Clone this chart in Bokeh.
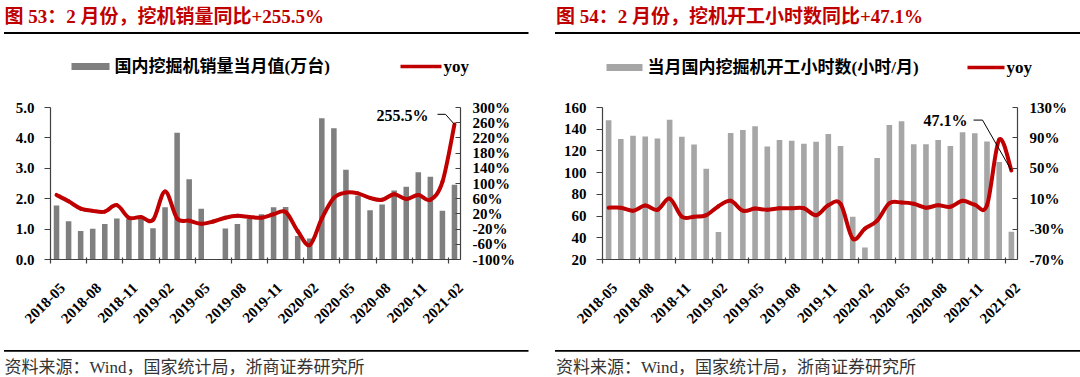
import numpy as np
from bokeh.plotting import figure
from bokeh.models import Range1d, LinearAxis, FixedTicker, PrintfTickFormatter, Label
from bokeh.layouts import row, column
from bokeh.embed import file_html
from bokeh.resources import INLINE

# ---------------- data ----------------
months = ["2018-05", "2018-06", "2018-07", "2018-08", "2018-09", "2018-10", "2018-11", "2018-12",
          "2019-01", "2019-02", "2019-03", "2019-04", "2019-05", "2019-06", "2019-07", "2019-08",
          "2019-09", "2019-10", "2019-11", "2019-12", "2020-01", "2020-02", "2020-03", "2020-04",
          "2020-05", "2020-06", "2020-07", "2020-08", "2020-09", "2020-10", "2020-11", "2020-12",
          "2021-01", "2021-02"]

# 国内挖掘机销量当月值(万台)  (2019-06 missing in the source)
sales = [1.78, 1.26, 0.94, 1.01, 1.17, 1.35, 1.33, 1.33, 1.03, 1.72, 4.17, 2.64, 1.67, float("nan"),
         1.02, 1.17, 1.33, 1.49, 1.72, 1.73, 0.77, 0.69, 4.65, 4.32, 2.95, 2.10, 1.62, 1.81,
         2.27, 2.39, 2.87, 2.72, 1.60, 2.46]
# yoy (%)
sales_yoy = [70, 53, 34, 28, 26, 43, 10, 12, 4, 79, 8, 2, -6, 0, 10, 15, 12, 10, 19, 25,
             -25, -62, 8, 62, 76, 74, 62, 57, 72, 59, 70, 57, 104, 255.5]

# 当月国内挖掘机开工小时数(小时/月)
hours = [148.3, 130.9, 134.0, 133.4, 131.5, 148.8, 133.1, 126.0, 103.7, 45.3, 136.4, 139.2,
         142.8, 124.0, 130.1, 129.3, 126.5, 128.4, 135.6, 124.6, 59.4, 31.0, 113.6, 143.9,
         147.4, 126.2, 126.2, 130.1, 124.6, 137.3, 136.2, 128.7, 109.7, 45.6]
# yoy (%)
hours_yoy = [-1.8, -1.8, -5.8, 0.9, -4.6, 10.0, -13.7, -13.7, -11.7, 0.1, 7.2, -5.8, -3.0, -4.6,
             -2.6, -2.6, -2.6, -11.7, 1.3, 3.3, -42.4, -29.4, -18.8, 4.0, 4.9, 3.3, -1.8, 1.3,
             -0.7, 7.2, 2.1, 1.3, 87.6, 47.1]

title_left = "图 53：2 月份，挖机销量同比+255.5%"
title_right = "图 54：2 月份，挖机开工小时数同比+47.1%"
legend_bar_left = "国内挖掘机销量当月值(万台)"
legend_bar_right = "当月国内挖掘机开工小时数(小时/月)"
legend_line = "yoy"
source_text = "资料来源：Wind，国家统计局，浙商证券研究所"

# ---------------- style ----------------
FONT = "'Liberation Serif', 'Noto Sans CJK SC'"
RED = "#C00000"
TITLE_RED = "#C00000"
TOTAL_W = 1080
PANEL_W = 540
HEAD_H = 78
CHART_H = 257
FOOT_H = 42
LABEL_SHIFT = 1.0   # x-label anchor offset (in categories) right of each tick


def bezier_segments(xs, ys):
    n = len(xs)
    d = dict(x0=[], y0=[], x1=[], y1=[], cx0=[], cy0=[], cx1=[], cy1=[])
    for i in range(n - 1):
        a = max(i - 1, 0)
        b = min(i + 2, n - 1)
        d["x0"].append(xs[i]); d["y0"].append(ys[i])
        d["x1"].append(xs[i + 1]); d["y1"].append(ys[i + 1])
        d["cx0"].append(xs[i] + (xs[i + 1] - xs[a]) / 6.0)
        d["cy0"].append(ys[i] + (ys[i + 1] - ys[a]) / 6.0)
        d["cx1"].append(xs[i + 1] - (xs[b] - xs[i]) / 6.0)
        d["cy1"].append(ys[i + 1] - (ys[b] - ys[i]) / 6.0)
    return d


def blank(width, height):
    f = figure(width=width, height=height, x_range=Range1d(0, width), y_range=Range1d(height, 0),
               output_backend="svg", toolbar_location=None, x_axis_type=None, y_axis_type=None,
               min_border_left=0, min_border_right=0, min_border_top=0, min_border_bottom=0)
    f.outline_line_color = None
    f.background_fill_color = "white"
    f.border_fill_color = "white"
    return f


def label(fig, x, y, text, size, color="black", bold=True, align="left"):
    fig.add_layout(Label(x=x, y=y, text=text, text_font=FONT,
                         text_font_style="bold" if bold else "normal",
                         text_font_size=size, text_color=color, text_baseline="middle",
                         text_align=align))


# ---------- header (titles, rules, legends) ----------
head = blank(TOTAL_W, HEAD_H)
for t, tx, (r0, r1), bar_label, bar_color, leg in [
        (title_left, 4, (3.5, 528), legend_bar_left, "#7F7F7F", (71, 109, 114, 400, 441, 443, 66)),
        (title_right, 555.5, (554.5, 1080), legend_bar_right, "#A6A6A6",
         (606, 642, 647, 967, 1004, 1006, 67))]:
    label(head, tx, 15.6, t, "19px", TITLE_RED)
    head.segment(x0=[r0], y0=[32.5], x1=[r1], y1=[32.5], line_color="black", line_width=1.8)
    gx0, gx1, ltx, lx0, lx1, ytx, ly = leg
    head.segment(x0=[gx0], y0=[ly], x1=[gx1], y1=[ly], line_color=bar_color, line_width=7,
                 line_cap="butt")
    label(head, ltx, ly, bar_label, "17px")
    head.segment(x0=[lx0], y0=[ly], x1=[lx1], y1=[ly], line_color=RED, line_width=3.5,
                 line_cap="butt")
    label(head, ytx, ly, legend_line, "17px")

# ---------- footer (rules, source) ----------
foot = blank(TOTAL_W, FOOT_H)
for tx, (r0, r1) in [(4, (3.5, 528)), (555.5, (554.5, 1080))]:
    foot.segment(x0=[r0], y0=[15.3], x1=[r1], y1=[15.3], line_color="black", line_width=1.8)
    label(foot, tx, 31.5, source_text, "17px", "#333333", bold=False)


def chart(bars, yoy, bar_color, yr, pr, yticks, yfmt, pticks, borders, lab):
    bl, br, bt, bb = borders
    fl, fr, ft, fb = bl, PANEL_W - br, bt, CHART_H - bb
    n = len(months)
    p = figure(width=PANEL_W, height=CHART_H, x_range=Range1d(0, n),
               y_range=Range1d(*yr), output_backend="svg", toolbar_location=None,
               min_border_left=bl, min_border_right=br, min_border_top=bt, min_border_bottom=bb)
    p.extra_y_ranges = {"pct": Range1d(*pr)}
    p.extra_x_ranges = {"lab": Range1d(-LABEL_SHIFT, n - LABEL_SHIFT)}
    p.xgrid.visible = False
    p.ygrid.visible = False
    p.outline_line_color = None
    p.background_fill_color = "white"
    p.border_fill_color = "white"

    def cx(px):
        return (px - fl) * n / (fr - fl)

    def cy(py):
        return yr[0] + (fb - py) * (yr[1] - yr[0]) / (fb - ft)

    def to_primary(v):
        return yr[0] + (v - pr[0]) * (yr[1] - yr[0]) / (pr[1] - pr[0])

    xs = [i + 0.5 for i in range(n)]
    p.vbar(x=xs, top=bars, bottom=yr[0], width=0.46, fill_color=bar_color, line_color=None)
    seg = bezier_segments(xs, yoy)
    p.bezier(line_color=RED, line_width=4, line_cap="round", y_range_name="pct", **seg)

    # x axis: ticks at category boundaries, labels on a second (line-less) axis
    tick_pos = list(range(0, n, 3))
    p.xaxis.ticker = FixedTicker(ticks=tick_pos)
    p.xaxis.major_label_overrides = {i: "" for i in tick_pos}
    p.xaxis.major_tick_in = 2
    p.xaxis.major_tick_out = 4
    p.xaxis.minor_tick_line_color = None
    p.xaxis.major_label_standoff = 0

    xlab = LinearAxis(x_range_name="lab", ticker=FixedTicker(ticks=tick_pos),
                      major_label_overrides={i: months[i] for i in tick_pos})
    xlab.axis_line_color = None
    xlab.major_tick_line_color = None
    xlab.minor_tick_line_color = None
    xlab.major_label_orientation = np.pi / 4
    xlab.major_label_standoff = 16
    p.add_layout(xlab, "below")

    p.yaxis.ticker = FixedTicker(ticks=yticks)
    p.yaxis.formatter = PrintfTickFormatter(format=yfmt)
    p.yaxis.major_tick_in = 0
    p.yaxis.major_tick_out = 6
    p.yaxis.minor_tick_line_color = None
    p.yaxis.major_label_standoff = 10

    ax2 = LinearAxis(y_range_name="pct", ticker=FixedTicker(ticks=pticks),
                     formatter=PrintfTickFormatter(format="%d%%"))
    ax2.major_tick_in = 5
    ax2.major_tick_out = 0
    ax2.minor_tick_line_color = None
    ax2.major_label_standoff = 12
    p.add_layout(ax2, "right")

    for ax in [xlab, p.yaxis[0], ax2]:
        ax.major_label_text_font = "Liberation Serif"
        ax.major_label_text_font_style = "bold"
        ax.major_label_text_color = "#000000"
        ax.major_label_text_font_size = "15px"
    for ax in [p.xaxis[0], p.yaxis[0], ax2]:
        ax.axis_line_color = "#404040"
        ax.axis_line_width = 1.2
        ax.major_tick_line_color = "#404040"
        ax.major_tick_line_width = 1.2
    p.xaxis[0].major_label_text_font_size = "1px"

    # last-point annotation
    lab_x, lab_y, k0, k1 = lab
    last_x = xs[-1]
    last_y = to_primary(yoy[-1])
    p.add_layout(Label(x=cx(lab_x), y=cy(lab_y), text=f"{yoy[-1]}%", text_font=FONT,
                       text_font_style="bold", text_font_size="16px", text_color="black",
                       text_baseline="middle", text_align="right"))
    p.segment(x0=[cx(k0)], y0=[cy(lab_y - 1)], x1=[cx(k1)], y1=[cy(lab_y - 1)],
              line_color="black", line_width=1)
    p.segment(x0=[cx(k1)], y0=[cy(lab_y - 1)], x1=[last_x], y1=[last_y],
              line_color="black", line_width=1)
    return p


# chart canvases: left at page (0, 78), right at page (540, 78)
c1 = chart(sales, sales_yoy, "#7F7F7F", (0, 5), (-100, 300), [0, 1, 2, 3, 4, 5], "%.1f",
           list(range(-100, 301, 40)), (50, 80, 29, 72), (428, 37, 437, 445))
c2 = chart(hours, hours_yoy, "#A6A6A6", (20, 160), (-70, 130), list(range(20, 161, 20)), "%d",
           list(range(-70, 131, 40)), (62, 63, 12, 76), (427, 27, 433, 442))

layout = column(head, row(c1, c2), foot)
open("out.html", "w").write(file_html(layout, INLINE))
